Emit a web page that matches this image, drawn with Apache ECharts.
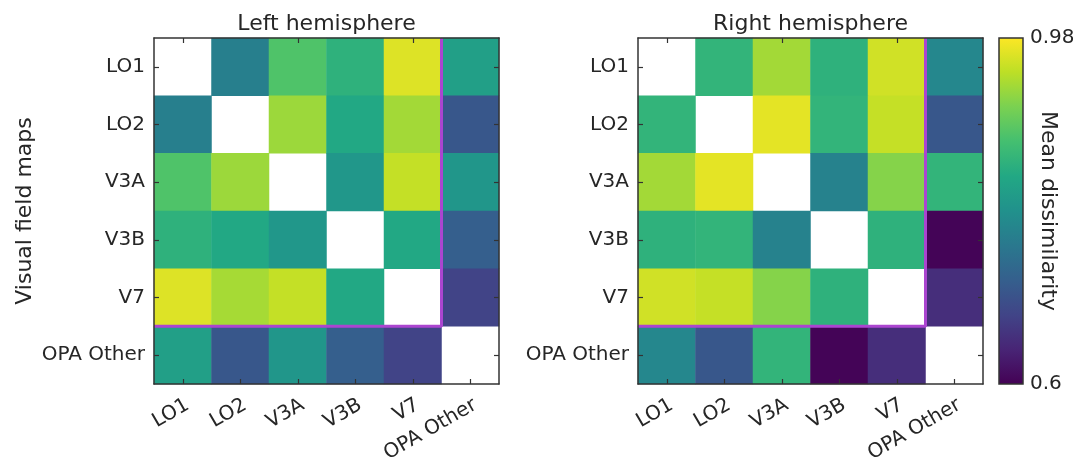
<!DOCTYPE html>
<html>
<head>
<meta charset="utf-8">
<script src="https://cdn.jsdelivr.net/npm/echarts@6/dist/echarts.min.js"></script>
<style>
  html, body { margin: 0; padding: 0; background: #fff; }
  #chart { width: 1073px; height: 462px; }
</style>
</head>
<body>
<div id="chart"></div>
<script>
// visual field maps (rows / columns of both matrices)
const maps = ['LO1', 'LO2', 'V3A', 'V3B', 'V7', 'OPA Other']
// size of the block framed in purple (the first five maps)
const blockSize = 5

// mean dissimilarity, row by row, diagonal left empty
const leftLO1 = [null, 0.763, 0.874, 0.843, 0.961, 0.813]
const leftLO2 = [0.763, null, 0.923, 0.828, 0.927, 0.703]
const leftV3A = [0.874, 0.923, null, 0.800, 0.946, 0.798]
const leftV3B = [0.843, 0.828, 0.800, null, 0.828, 0.714]
const leftV7 = [0.961, 0.929, 0.946, 0.828, null, 0.676]
const leftOPA = [0.813, 0.703, 0.798, 0.714, 0.676, null]

const rightLO1 = [null, 0.847, 0.927, 0.843, 0.953, 0.775]
const rightLO2 = [0.847, null, 0.965, 0.847, 0.947, 0.703]
const rightV3A = [0.927, 0.965, null, 0.767, 0.910, 0.847]
const rightV3B = [0.843, 0.847, 0.767, null, 0.843, 0.603]
const rightV7 = [0.953, 0.947, 0.910, 0.843, null, 0.650]
const rightOPA = [0.775, 0.703, 0.847, 0.603, 0.650, null]

const colorMin = 0.6
const colorMax = 0.98

const viridis = ['#440154', '#482475', '#414487', '#355f8d', '#2a788e', '#21918c',
  '#22a884', '#44bf70', '#7ad151', '#bddf26', '#fde725']

const textColor = '#262626'
const frameColor = '#333333'
const purple = '#ab45d0'
const font = 'DejaVu Sans'

function toCells(rows) {
  const out = []
  rows.forEach((row, r) => {
    row.forEach((v, c) => {
      if (v !== null) out.push([c, r, v])
    })
  })
  return out
}

// purple frame around the first blockSize maps, in cell units
const frameLine = [[0, blockSize], [blockSize, blockSize], [blockSize, 0]]

const grids = [
  { left: 154, top: 38, width: 345, height: 346 },
  { left: 638, top: 38, width: 345, height: 346 },
  { left: 999, top: 38, width: 24, height: 346 }
]
const titles = ['Left hemisphere', 'Right hemisphere']

function axisLine() {
  return { show: true, onZero: false, lineStyle: { color: frameColor, width: 1.5 } }
}
function ticks() {
  return { show: true, inside: true, alignWithLabel: true, length: 5, lineStyle: { color: frameColor, width: 1.2 } }
}

const xAxis = []
const yAxis = []
const series = []

;[0, 1].forEach(g => {
  // bottom, labelled
  xAxis.push({
    type: 'category', gridIndex: g, data: maps, position: 'bottom', z: 10,
    axisLine: axisLine(), axisTick: ticks(),
    axisLabel: {
      rotate: 30, margin: 11, fontSize: 20, color: textColor, interval: 0, fontFamily: font,
      align: 'right', verticalAlign: 'top'
    },
    splitLine: { show: false }
  })
  // top, ticks only + title
  xAxis.push({
    type: 'category', gridIndex: g, data: maps, position: 'top', z: 10,
    axisLine: axisLine(), axisTick: ticks(),
    axisLabel: { show: false }, splitLine: { show: false },
    name: titles[g], nameLocation: 'middle', nameGap: 3,
    nameTextStyle: { fontSize: 22, color: textColor, fontFamily: font }
  })
  // hidden value axis for the purple frame
  xAxis.push({ type: 'value', gridIndex: g, min: 0, max: maps.length, show: false, axisLine: { onZero: false } })

  yAxis.push({
    type: 'category', gridIndex: g, data: maps, position: 'left', inverse: true, z: 10,
    axisLine: axisLine(), axisTick: ticks(),
    axisLabel: { margin: 9, fontSize: 20, color: textColor, interval: 0, fontFamily: font },
    splitLine: { show: false },
    name: g === 0 ? 'Visual field maps' : '', nameLocation: 'middle', nameGap: 118, nameRotate: 90,
    nameMoveOverlap: false,
    nameTextStyle: { fontSize: 22, color: textColor, fontFamily: font }
  })
  yAxis.push({
    type: 'category', gridIndex: g, data: maps, position: 'right', inverse: true, z: 10,
    axisLine: axisLine(), axisTick: ticks(),
    axisLabel: { show: false }, splitLine: { show: false }
  })
  yAxis.push({ type: 'value', gridIndex: g, min: 0, max: maps.length, inverse: true, show: false, axisLine: { onZero: false } })
})

// colour bar frame and labels
xAxis.push({ type: 'value', gridIndex: 2, min: 0, max: 1, show: false, axisLine: { onZero: false } })
yAxis.push({
  type: 'value', gridIndex: 2, min: colorMin, max: colorMax, position: 'right', z: 10,
  axisLine: { show: false, onZero: false }, axisTick: { show: false }, splitLine: { show: false },
  axisLabel: {
    customValues: [colorMin, colorMax], margin: 7, fontSize: 20, color: textColor,
    fontFamily: font, formatter: v => String(v)
  },
  name: 'Mean dissimilarity', nameLocation: 'middle', nameGap: 14, nameRotate: -90,
  nameMoveOverlap: false,
  nameTextStyle: { fontSize: 22, color: textColor, fontFamily: font }
})

const matrices = [
  [leftLO1, leftLO2, leftV3A, leftV3B, leftV7, leftOPA],
  [rightLO1, rightLO2, rightV3A, rightV3B, rightV7, rightOPA]
]

matrices.forEach((m, g) => {
  series.push({
    type: 'heatmap',
    xAxisIndex: g * 3, yAxisIndex: g * 3,
    data: toCells(m),
    itemStyle: { borderWidth: 0 },
    emphasis: { disabled: true },
    silent: true,
    z: 1
  })
  series.push({
    type: 'line',
    xAxisIndex: g * 3 + 2, yAxisIndex: g * 3 + 2,
    data: frameLine,
    symbol: 'none',
    clip: false,
    z: 4,
    lineStyle: { color: purple, width: 3 },
    silent: true
  })
})

// colour bar: viridis gradient from bottom (min) to top (max)
const barFill = {
  type: 'linear', x: 0, y: 1, x2: 0, y2: 0,
  colorStops: viridis.map((c, i) => ({ offset: i / (viridis.length - 1), color: c }))
}

const chart = echarts.init(document.getElementById('chart'), null, { renderer: 'canvas' })
chart.setOption({
  animation: false,
  backgroundColor: '#fff',
  textStyle: { fontFamily: font },
  grid: grids.map((r, i) => Object.assign({
    show: i === 2, borderColor: frameColor, borderWidth: 1.5,
    backgroundColor: i === 2 ? barFill : 'transparent',
    outerBoundsMode: 'none', containLabel: false
  }, r)),
  xAxis,
  yAxis,
  visualMap: {
    type: 'continuous',
    show: false,
    min: colorMin,
    max: colorMax,
    seriesIndex: [0, 2],
    inRange: { color: viridis }
  },
  series
})
</script>
</body>
</html>
